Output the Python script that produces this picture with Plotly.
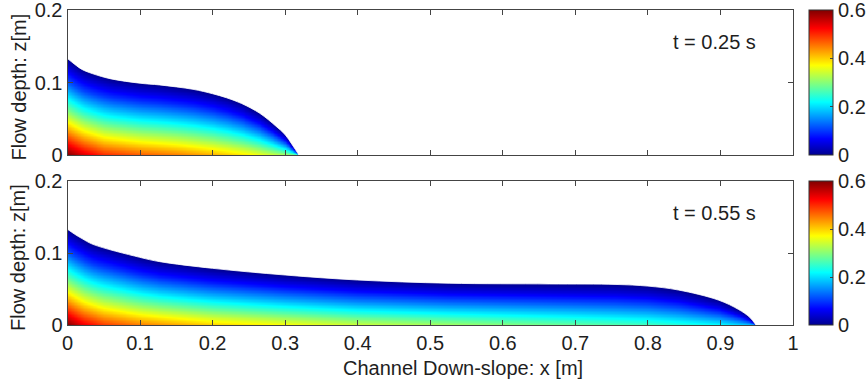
import numpy as np
import plotly.graph_objects as go

# ---------------- data ----------------
# t = 0.25 s : free-surface (flow depth) profile
x_top = [0, 0.01, 0.02, 0.035, 0.06, 0.1, 0.127, 0.173, 0.2, 0.219, 0.24, 0.265, 0.287, 0.30, 0.31, 0.319]
h_top = [0.133, 0.125, 0.118, 0.112, 0.105, 0.099, 0.0966, 0.0906, 0.0845, 0.079, 0.071, 0.0575, 0.040, 0.028, 0.0138, 0.0]
# t = 0.25 s : bed velocity
xu_top = [0, 0.02, 0.05, 0.1, 0.15, 0.2, 0.25, 0.3, 0.319]
u_top = [0.6, 0.55, 0.5, 0.47, 0.45, 0.42, 0.38, 0.32, 0.28]

# t = 0.55 s : free-surface profile
x_bot = [0, 0.01, 0.02, 0.035, 0.0995, 0.127, 0.2, 0.3, 0.4, 0.526, 0.664, 0.756, 0.8, 0.842, 0.897, 0.925, 0.94, 0.949]
h_bot = [0.133, 0.126, 0.12, 0.112, 0.094, 0.088, 0.0787, 0.0694, 0.0625, 0.058, 0.057, 0.0563, 0.054, 0.0486, 0.0347, 0.0215, 0.011, 0.0]
# t = 0.55 s : bed velocity
xu_bot = [0, 0.02, 0.05, 0.1, 0.2, 0.3, 0.4, 0.5, 0.6, 0.7, 0.8, 0.9, 0.949]
u_bot = [0.6, 0.54, 0.49, 0.45, 0.40, 0.37, 0.34, 0.32, 0.30, 0.28, 0.26, 0.22, 0.18]

# vertical velocity shape (fraction of bed velocity vs relative height z/h)
prof_r = [0, 0.25, 0.5, 0.75, 1.0]
prof_f = [1, 0.72, 0.45, 0.2, 0.0]

times = ["t = 0.25 s", "t = 0.55 s"]
xticks = [0, 0.1, 0.2, 0.3, 0.4, 0.5, 0.6, 0.7, 0.8, 0.9, 1]
xticklabels = ["0", "0.1", "0.2", "0.3", "0.4", "0.5", "0.6", "0.7", "0.8", "0.9", "1"]
yticks = [0, 0.1, 0.2]
yticklabels = ["0", "0.1", "0.2"]
cticks = [0, 0.2, 0.4, 0.6]
cticklabels = ["0", "0.2", "0.4", "0.6"]

# ---------------- figure ----------------
W, Hpx = 868, 386
jet = [[0, "rgb(0,0,143)"], [0.111, "rgb(0,0,255)"], [0.365, "rgb(0,255,255)"],
       [0.619, "rgb(255,255,0)"], [0.873, "rgb(255,0,0)"], [1, "rgb(128,0,0)"]]
TXT = "#1e1e1e"
LINE = "#444444"
FONT = "Liberation Sans, Arial, sans-serif"

gx = np.linspace(0, 1, 501)
gz = np.linspace(0, 0.2, 241)
GX, GZ = np.meshgrid(gx, gz)


def field(xs, hs, xu, us):
    Hh = np.interp(GX, xs, hs, right=0.0)
    U = np.interp(GX, xu, us)
    R = np.where(Hh > 0, GZ / np.maximum(Hh, 1e-9), 2.0)
    F = np.interp(R, prof_r, prof_f, right=0.0)
    return U * F


px0, px1 = 67.5, 793.0
doms = [(10, 155), (181, 325)]  # pixel top/bottom of each panel

fig = go.Figure()
data_sets = [(x_top, h_top, xu_top, u_top), (x_bot, h_bot, xu_bot, u_bot)]
for i, (xs, hs, xu, us) in enumerate(data_sets):
    xa = "x" if i == 0 else "x2"
    ya = "y" if i == 0 else "y2"
    t, b = doms[i]
    fig.add_trace(go.Heatmap(
        x=gx, y=gz, z=field(xs, hs, xu, us), xaxis=xa, yaxis=ya,
        colorscale=jet, zmin=0, zmax=0.6, zsmooth="best", hoverinfo="skip",
        colorbar=dict(
            x=809 / W, xanchor="left", xpad=0, ypad=0, thickness=24,
            y=1 - (t + b) / 2 / Hpx, yanchor="middle", len=(b - t) / Hpx, lenmode="fraction",
            tickvals=cticks, ticktext=cticklabels, ticks="inside", ticklen=3,
            tickcolor=LINE, outlinecolor="#333333", outlinewidth=1,
            ticklabeloverflow="allow",
            tickfont=dict(size=20, color=TXT, family=FONT),
        ),
    ))
    # white region above the free surface
    fig.add_trace(go.Scatter(x=[0, 1], y=[0.2, 0.2], mode="lines", line=dict(width=0.5, color="white"),
                             xaxis=xa, yaxis=ya, hoverinfo="skip", showlegend=False))
    fig.add_trace(go.Scatter(x=xs, y=hs, mode="lines",
                             line=dict(width=0.8, color="white", shape="spline", smoothing=1.0),
                             fill="tonexty", fillcolor="white",
                             xaxis=xa, yaxis=ya, hoverinfo="skip", showlegend=False))
    xf = xs[-1]
    fig.add_trace(go.Scatter(x=[xf, 1, 1, xf, xf], y=[0, 0, 0.2, 0.2, 0], mode="lines",
                             line=dict(width=0.5, color="white"), fill="toself", fillcolor="white",
                             xaxis=xa, yaxis=ya, hoverinfo="skip", showlegend=False))

axis_common = dict(range=[0, 1], tickvals=xticks, ticktext=xticklabels, ticks="inside", ticklen=5,
                   tickcolor=LINE, showline=True, linecolor=LINE, linewidth=1, mirror="ticks",
                   showgrid=False, zeroline=False, tickfont=dict(size=20, color=TXT, family=FONT),
                   ticklabeloverflow="allow", domain=[px0 / W, px1 / W])
yaxis_common = dict(range=[0, 0.2], tickvals=yticks, ticktext=yticklabels, ticks="inside", ticklen=5,
                    tickcolor=LINE, showline=True, linecolor=LINE, linewidth=1, mirror="ticks",
                    showgrid=False, zeroline=False, ticklabeloverflow="allow",
                    tickfont=dict(size=20, color=TXT, family=FONT))

fig.update_layout(
    width=W, height=Hpx, margin=dict(l=0, r=0, t=0, b=0, autoexpand=False),
    paper_bgcolor="white", plot_bgcolor="white", showlegend=False,
    xaxis=dict(axis_common, anchor="y", showticklabels=False),
    yaxis=dict(yaxis_common, anchor="x", domain=[1 - doms[0][1] / Hpx, 1 - doms[0][0] / Hpx]),
    xaxis2=dict(axis_common, anchor="y2", showticklabels=True),
    yaxis2=dict(yaxis_common, anchor="x2", domain=[1 - doms[1][1] / Hpx, 1 - doms[1][0] / Hpx]),
)

annots = []
for i, (t, b) in enumerate(doms):
    annots.append(dict(text="Flow depth: z[m]", xref="paper", yref="paper", x=18 / W,
                       y=1 - ((t + b) / 2 + 5) / Hpx, xanchor="center", yanchor="middle",
                       textangle=-90, showarrow=False, font=dict(size=20, color=TXT, family=FONT)))
    annots.append(dict(text=times[i], xref="paper", yref="paper", x=714.5 / W,
                       y=1 - (t + 32) / Hpx, xanchor="center", yanchor="middle",
                       showarrow=False, font=dict(size=20, color=TXT, family=FONT)))
annots.append(dict(text="Channel Down-slope: x [m]", xref="paper", yref="paper", x=463 / W,
                   y=1 - 368 / Hpx, xanchor="center", yanchor="middle", showarrow=False,
                   font=dict(size=20, color=TXT, family=FONT)))
fig.update_layout(annotations=annots)

fig.write_html("out.html")
